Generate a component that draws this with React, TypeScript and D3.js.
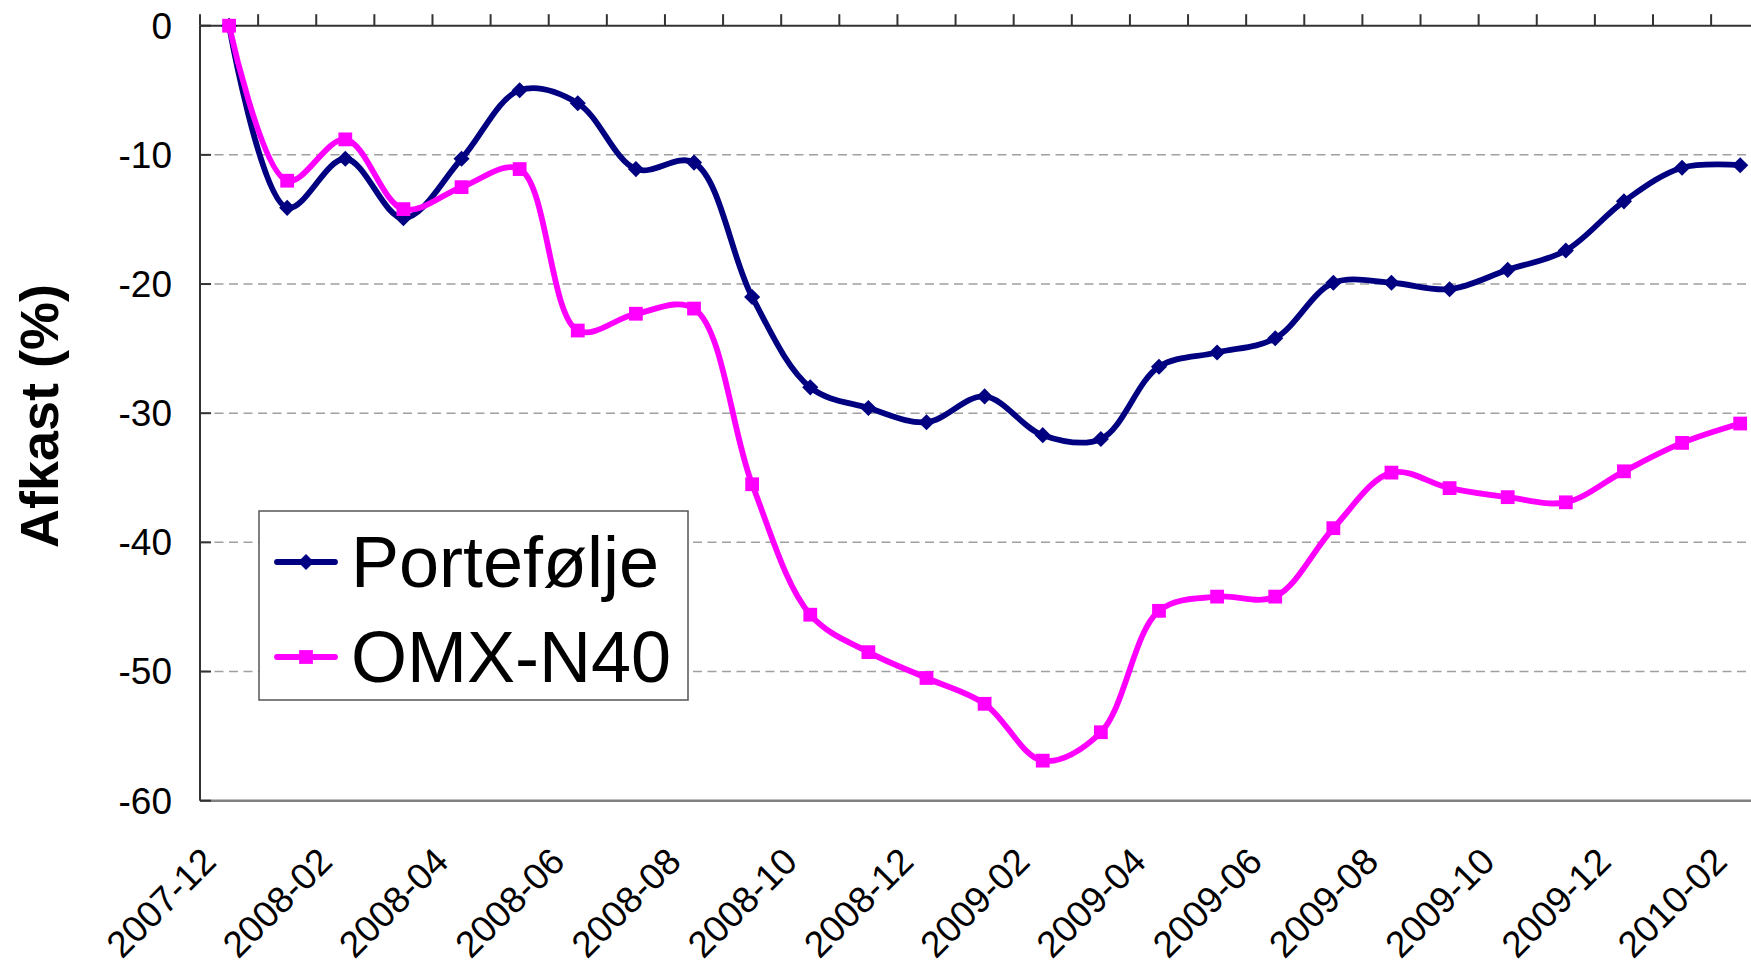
import React from 'react';
import * as d3 from 'd3';

const months = [
  '2007-12', '2008-01', '2008-02', '2008-03', '2008-04', '2008-05', '2008-06',
  '2008-07', '2008-08', '2008-09', '2008-10', '2008-11', '2008-12', '2009-01',
  '2009-02', '2009-03', '2009-04', '2009-05', '2009-06', '2009-07', '2009-08',
  '2009-09', '2009-10', '2009-11', '2009-12', '2010-01', '2010-02',
];

const portefolje = [
  0, -14.1, -10.3, -14.9, -10.3, -5.0, -6.0, -11.1, -10.6, -21.0, -28.0, -29.6, -30.7, -28.7,
  -31.7, -32.0, -26.4, -25.3, -24.2, -19.9, -19.9, -20.4, -18.9, -17.4, -13.6, -11.0, -10.8,
];

const omxN40 = [
  0, -12.0, -8.8, -14.2, -12.5, -11.1, -23.6, -22.3, -21.9, -35.5, -45.6, -48.5, -50.5, -52.5,
  -56.9, -54.7, -45.3, -44.2, -44.2, -38.9, -34.6, -35.8, -36.5, -36.9, -34.5, -32.3, -30.8,
];

const yTicks = [0, -10, -20, -30, -40, -50, -60];
const gridTicks = [-10, -20, -30, -40, -50];

const W = 1751;
const H = 963;
const left = 200;
const bandW = 58.12;
const top = 25.7;
const bottom = 800.7;
const font = '"Liberation Sans", Arial, sans-serif';

const NAVY = '#000080';
const MAGENTA = '#FF00FF';

const App: React.FC = () => {
  const x = d3.scaleBand<string>()
    .domain(months)
    .range([left, left + bandW * months.length])
    .padding(0);
  const cx = (m: string) => (x(m) || 0) + x.bandwidth() / 2;
  const y = d3.scaleLinear().domain([-60, 0]).range([bottom, top]);
  const right = left + bandW * months.length;

  const line = d3.line<number>()
    .x((_d, i) => cx(months[i]))
    .y(d => y(d))
    .curve(d3.curveCatmullRom.alpha(0.5));

  const square = d3.symbol().type(d3.symbolSquare).size(190)() || '';
  const diamond = d3.symbol().type(d3.symbolSquare).size(130)() || '';

  const series = [
    { name: 'Portefølje', values: portefolje, color: NAVY, marker: diamond, rot: 45 },
    { name: 'OMX-N40', values: omxN40, color: MAGENTA, marker: square, rot: 0 },
  ];

  return (
    <svg width={W} height={H} style={{ position: 'absolute', left: 0, top: 0, background: '#fff' }}
      fontFamily={font}>
      {/* grid */}
      {gridTicks.map(t => (
        <line key={t} x1={left} x2={right} y1={y(t)} y2={y(t)}
          stroke="#a0a0a0" strokeWidth={1.5} strokeDasharray="9 5.5" />
      ))}
      {/* plot border bottom */}
      <line x1={left} x2={right} y1={bottom} y2={bottom} stroke="#808080" strokeWidth={2.5} />

      {/* y axis */}
      <line x1={left} x2={left} y1={top} y2={bottom} stroke="#333" strokeWidth={2} />
      {yTicks.map(t => (
        <g key={t}>
          <line x1={left} x2={left + 11} y1={y(t)} y2={y(t)} stroke="#333" strokeWidth={2} />
          <text x={172} y={y(t)} dy="0.35em" textAnchor="end" fontSize={37} fill="#000">{t}</text>
        </g>
      ))}

      {/* category axis at 0 */}
      <line x1={left} x2={right} y1={top} y2={top} stroke="#333" strokeWidth={2} />
      {d3.range(months.length + 1).map(i => (
        <line key={i} x1={left + i * x.bandwidth()} x2={left + i * x.bandwidth()}
          y1={top - 11.5} y2={top} stroke="#333" strokeWidth={2} />
      ))}
      {months.map((m, i) => i % 2 === 0 ? (
        <text key={m} transform={`translate(${cx(m) - 11},${bottom + 63}) rotate(-45)`}
          textAnchor="end" fontSize={37} fill="#000">{m}</text>
      ) : null)}

      {/* y title */}
      <text transform="translate(58,416) rotate(-90)" textAnchor="middle" fontSize={54}
        fontWeight="bold" fill="#000">Afkast (%)</text>

      {/* series */}
      {series.map(s => (
        <g key={s.name}>
          <path d={line(s.values) || ''} fill="none" stroke={s.color} strokeWidth={5.8}
            strokeLinejoin="round" />
          {s.values.map((v, i) => (
            <path key={i} d={s.marker} fill={s.color}
              transform={`translate(${cx(months[i])},${y(v)}) rotate(${s.rot})`} />
          ))}
        </g>
      ))}

      {/* legend */}
      <rect x={259} y={511} width={429} height={189} fill="#fff" stroke="#555" strokeWidth={1.5} />
      {series.map((s, i) => {
        const ly = 562 + i * 95;
        return (
          <g key={s.name}>
            <line x1={277} x2={335} y1={ly} y2={ly} stroke={s.color} strokeWidth={5.8}
              strokeLinecap="round" />
            <path d={s.marker} fill={s.color} transform={`translate(306,${ly}) rotate(${s.rot})`} />
            <text x={351} y={ly + 25} fontSize={72} fill="#000">{s.name}</text>
          </g>
        );
      })}
    </svg>
  );
};

export default App;
